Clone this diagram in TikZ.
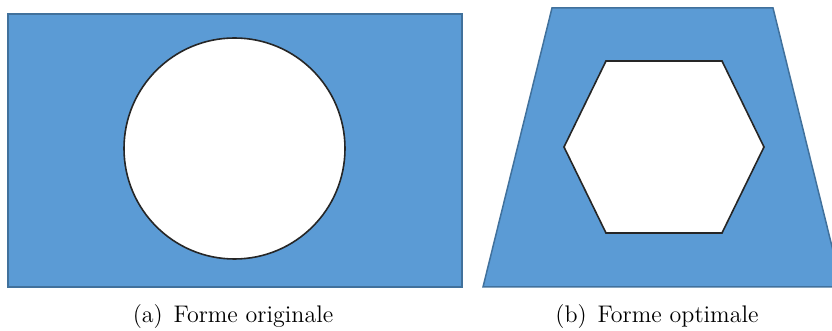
\documentclass[tikz,border=0pt]{standalone}
\usepackage{xcolor}
\usepackage{tikz}
\definecolor{shapeblue}{HTML}{5B9BD5}
\definecolor{edgeblue}{HTML}{41719C}

\begin{document}
\begin{tikzpicture}[x=0.5pt,y=-0.5pt]
\useasboundingbox (0,0) rectangle (832,331);
\filldraw[fill=shapeblue, draw=edgeblue, line width=0.75pt] (8,14) rectangle (462,287);
\filldraw[fill=white, draw=black!85, line width=0.8pt] (234.5,148.5) circle (110.5);
\begin{scope}
\clip (0,0) rectangle (832,331);
\filldraw[fill=shapeblue, draw=edgeblue, line width=0.75pt] (552,8) -- (773,8) -- (842,287) -- (483,287) -- cycle;
\end{scope}
\filldraw[fill=white, draw=black!85, line width=0.8pt] (606,61) -- (722,61) -- (764,147) -- (722,233) -- (606,233) -- (564,147) -- cycle;
\node[anchor=base, font=\large] (capa) at (233,323) {(a)\hspace{0.45em}Forme originale};
\node[anchor=base, font=\large] (capb) at (657,323) {(b)\hspace{0.45em}Forme optimale};
\end{tikzpicture}
\end{document}
